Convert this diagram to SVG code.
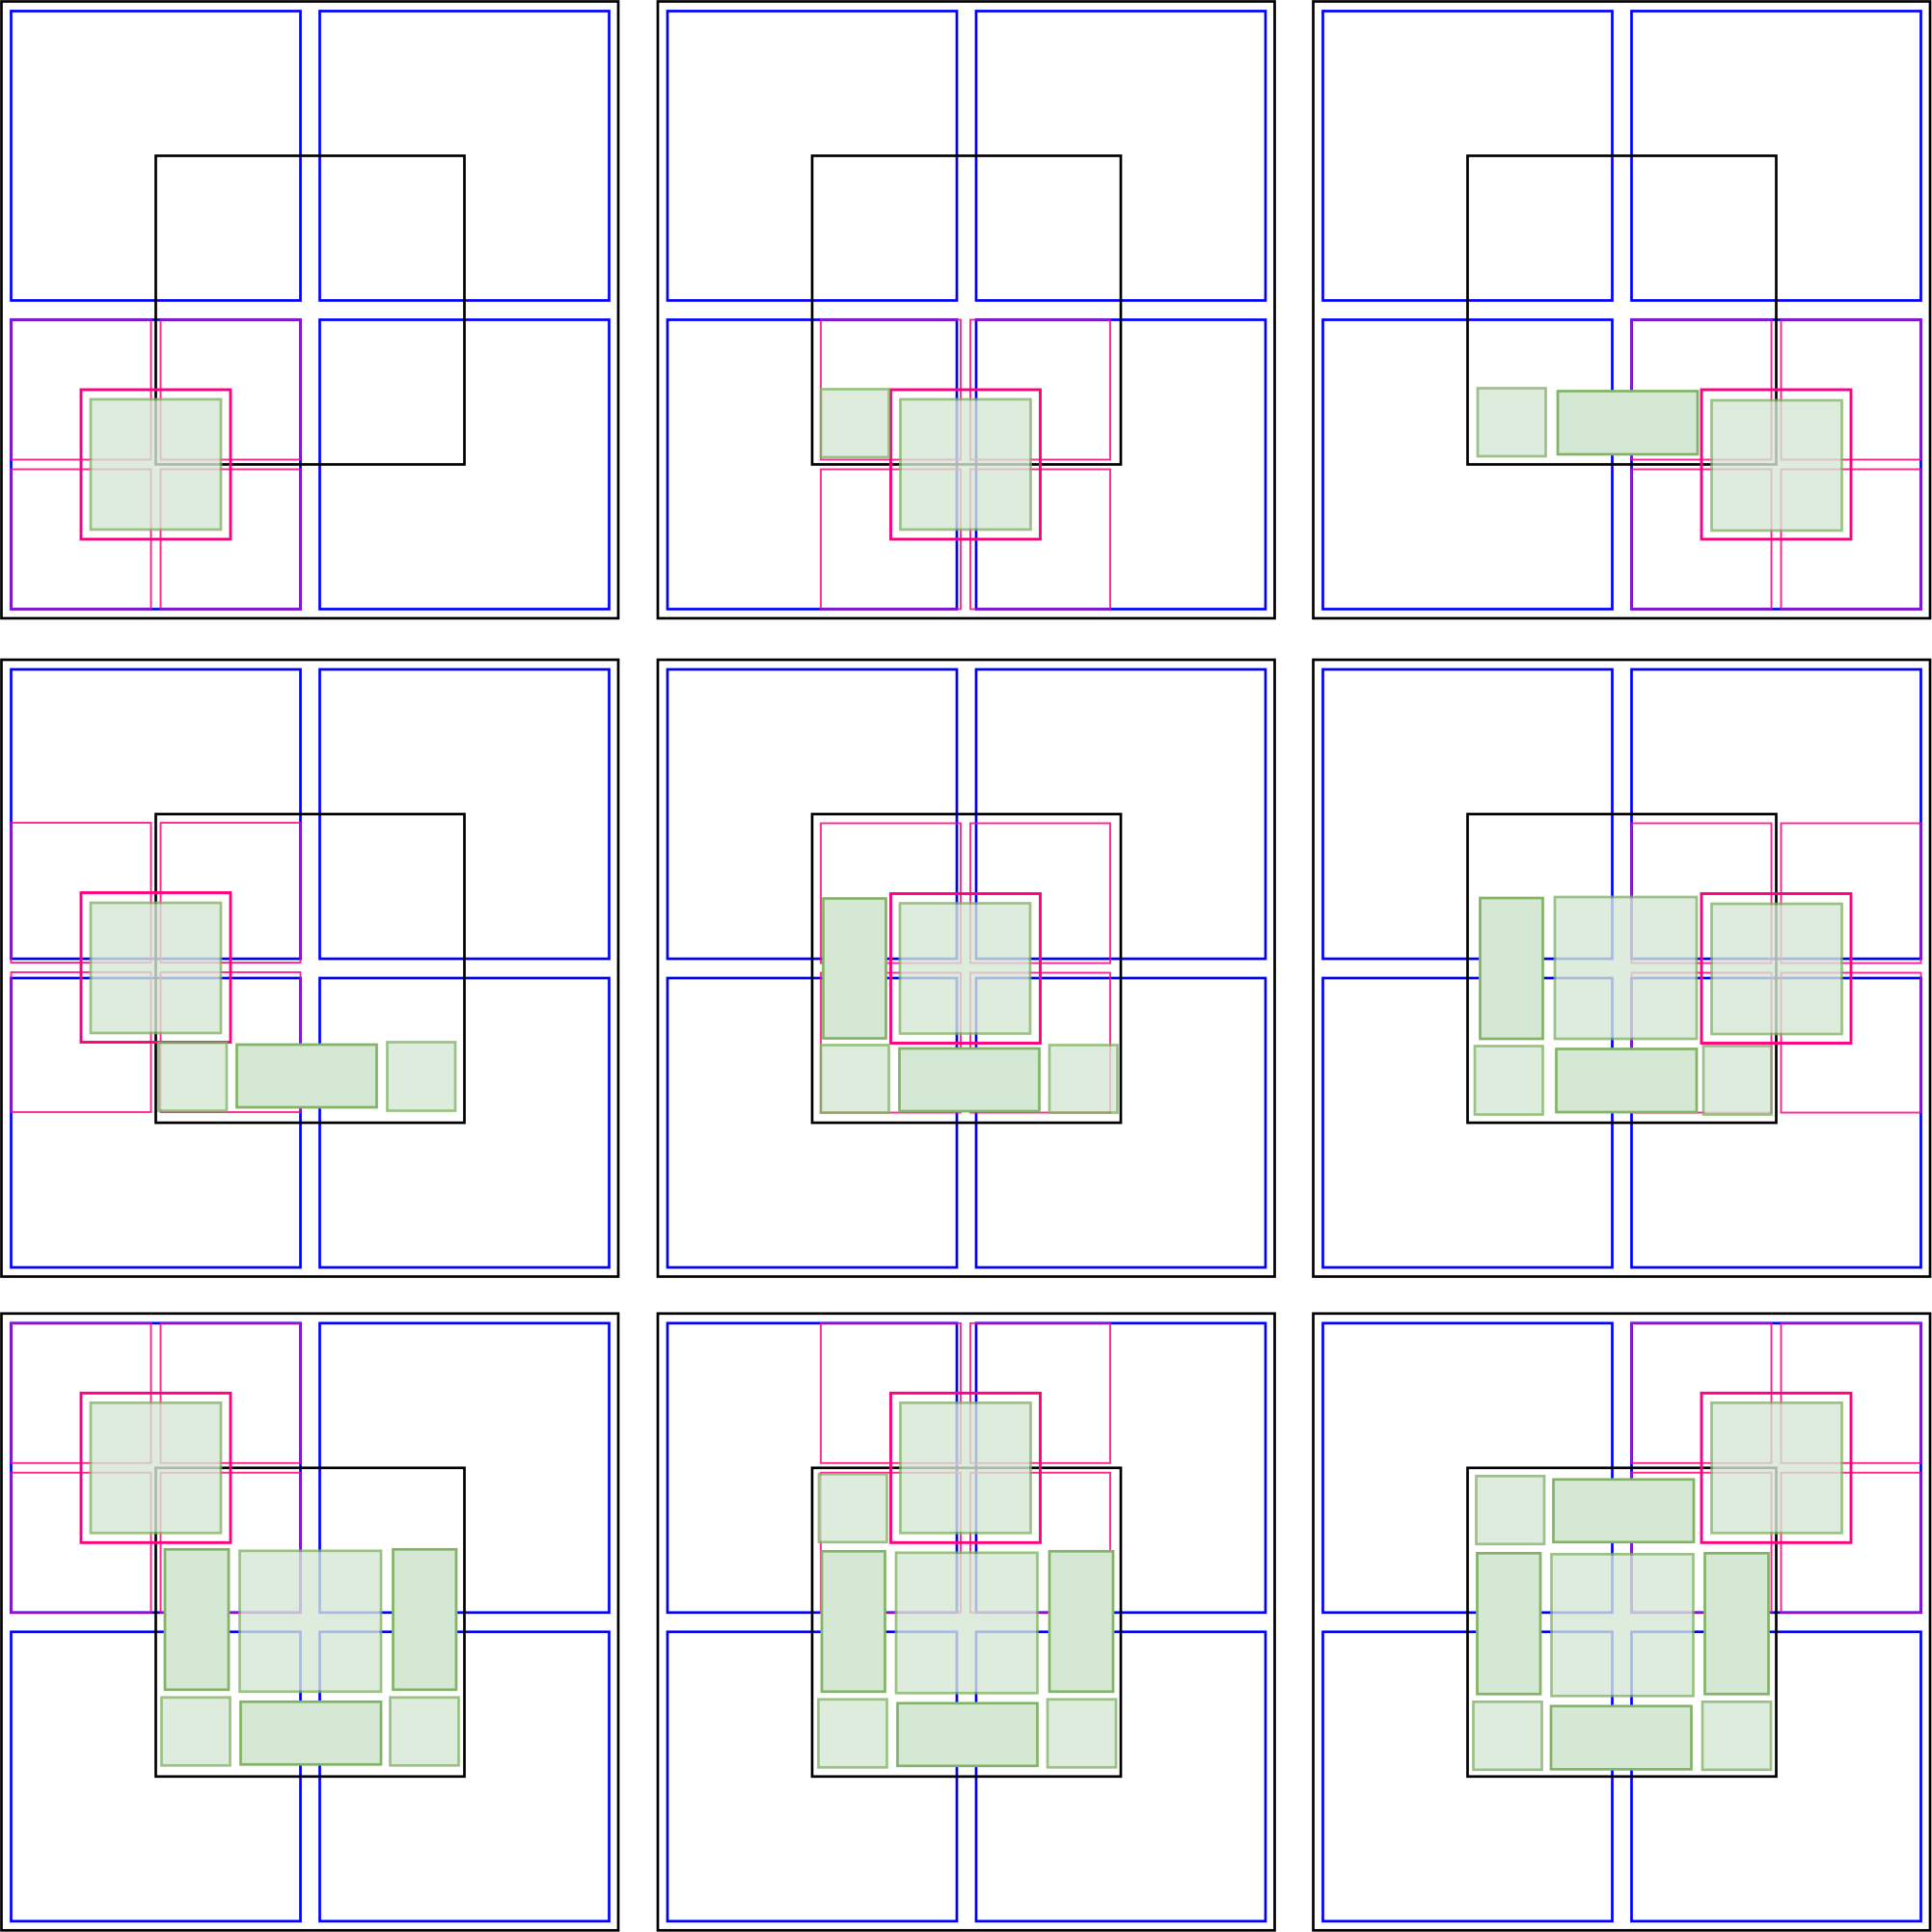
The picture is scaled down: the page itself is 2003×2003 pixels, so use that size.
<svg xmlns="http://www.w3.org/2000/svg" xmlns:xlink="http://www.w3.org/1999/xlink" width="2003" height="2003" viewBox="0 0 2003 2003">
<style>
.frame{fill:none;stroke:#000000;stroke-width:2.7}
.blue{fill:none;stroke:#0000ff;stroke-width:2.7}
.core{fill:none;stroke:#000000;stroke-width:2.7}
.pt{fill:none;stroke:#ff0080;stroke-width:1.9;opacity:0.85}
.pk{fill:none;stroke:#ff0080;stroke-width:2.9}
.sq{fill:#d5e8d4;stroke:#82b366;stroke-width:2.7;opacity:0.8}
.rc{fill:#d5e8d4;stroke:#82b366;stroke-width:2.7}
</style>
<defs>
<g id="bg">
<rect class="frame" x="1.5" y="1.5" width="639.5" height="639.5"/>
<rect class="blue" x="11.5" y="11.5" width="300" height="300"/>
<rect class="blue" x="331.5" y="11.5" width="300" height="300"/>
<rect class="blue" x="11.5" y="331.5" width="300" height="300"/>
<rect class="blue" x="331.5" y="331.5" width="300" height="300"/>
<rect class="core" x="161.5" y="161.5" width="320" height="320"/>
</g>
</defs>
<rect x="0" y="0" width="2003" height="2003" fill="#ffffff"/>

<g id="panel-1" transform="translate(0,0)">
<use xlink:href="#bg" href="#bg"/>
<rect class="pt" x="11.5" y="331.5" width="145" height="145"/>
<rect class="pt" x="166.5" y="331.5" width="145" height="145"/>
<rect class="pt" x="11.5" y="486.5" width="145" height="145"/>
<rect class="pt" x="166.5" y="486.5" width="145" height="145"/>
<rect class="pk" x="84" y="404" width="155" height="155"/>
<rect class="sq" x="94" y="414" width="135" height="135"/>
</g>

<g id="panel-2" transform="translate(680.5,0)">
<use xlink:href="#bg" href="#bg"/>
<rect class="pt" x="170.5" y="331.5" width="145" height="145"/>
<rect class="pt" x="325.5" y="331.5" width="145" height="145"/>
<rect class="pt" x="170.5" y="486.5" width="145" height="145"/>
<rect class="pt" x="325.5" y="486.5" width="145" height="145"/>
<rect class="pk" x="243" y="404" width="155" height="155"/>
<rect class="sq" x="170.5" y="403.5" width="70.5" height="70.5"/>
<rect class="sq" x="253" y="414" width="135" height="135"/>
</g>

<g id="panel-3" transform="translate(1360,0)">
<use xlink:href="#bg" href="#bg"/>
<rect class="pt" x="331.5" y="331.5" width="145" height="145"/>
<rect class="pt" x="486.5" y="331.5" width="145" height="145"/>
<rect class="pt" x="331.5" y="486.5" width="145" height="145"/>
<rect class="pt" x="486.5" y="486.5" width="145" height="145"/>
<rect class="pk" x="404" y="404" width="155" height="155"/>
<rect class="sq" x="172" y="402.5" width="70.5" height="70.5"/>
<rect class="rc" x="255" y="405.5" width="145" height="65.5"/>
<rect class="sq" x="414.5" y="415" width="135" height="135"/>
</g>

<g id="panel-4" transform="translate(0,682.5)">
<use xlink:href="#bg" href="#bg"/>
<rect class="pt" x="11.5" y="170.5" width="145" height="145"/>
<rect class="pt" x="166.5" y="170.5" width="145" height="145"/>
<rect class="pt" x="11.5" y="325.5" width="145" height="145"/>
<rect class="pt" x="166.5" y="325.5" width="145" height="145"/>
<rect class="pk" x="84" y="243" width="155" height="155"/>
<rect class="sq" x="94" y="253.5" width="135" height="135"/>
<rect class="sq" x="164.5" y="398.5" width="70.5" height="70.5"/>
<rect class="rc" x="245.5" y="400.5" width="145" height="65"/>
<rect class="sq" x="401.5" y="398" width="70.5" height="71"/>
</g>

<g id="panel-5" transform="translate(680.5,682.5)">
<use xlink:href="#bg" href="#bg"/>
<rect class="pt" x="170.5" y="171" width="145" height="145"/>
<rect class="pt" x="325.5" y="171" width="145" height="145"/>
<rect class="pt" x="170.5" y="326" width="145" height="145"/>
<rect class="pt" x="325.5" y="326" width="145" height="145"/>
<rect class="pk" x="243" y="244" width="155" height="155"/>
<rect class="rc" x="173" y="249" width="65" height="145"/>
<rect class="sq" x="252.5" y="254" width="135" height="135"/>
<rect class="sq" x="170.5" y="401" width="70.5" height="70"/>
<rect class="rc" x="252" y="404.5" width="145" height="65"/>
<rect class="sq" x="407.5" y="401" width="70.5" height="70"/>
</g>

<g id="panel-6" transform="translate(1360,682.5)">
<use xlink:href="#bg" href="#bg"/>
<rect class="pt" x="331.5" y="171" width="145" height="145"/>
<rect class="pt" x="486.5" y="171" width="145" height="145"/>
<rect class="pt" x="331.5" y="326" width="145" height="145"/>
<rect class="pt" x="486.5" y="326" width="145" height="145"/>
<rect class="pk" x="404" y="244" width="155" height="155"/>
<rect class="rc" x="174.5" y="248.5" width="65" height="146"/>
<rect class="sq" x="252" y="247.5" width="147" height="147"/>
<rect class="sq" x="169" y="402" width="70.5" height="71"/>
<rect class="rc" x="253.5" y="405" width="145.5" height="65.5"/>
<rect class="sq" x="406" y="402" width="70.5" height="71"/>
<rect class="sq" x="414.5" y="254.5" width="135" height="135"/>
</g>

<g id="panel-7" transform="translate(0,1360.3)">
<use xlink:href="#bg" href="#bg"/>
<rect class="pt" x="11.5" y="11.5" width="145" height="145"/>
<rect class="pt" x="166.5" y="11.5" width="145" height="145"/>
<rect class="pt" x="11.5" y="166.5" width="145" height="145"/>
<rect class="pt" x="166.5" y="166.5" width="145" height="145"/>
<rect class="pk" x="84" y="84" width="155" height="155"/>
<rect class="sq" x="94" y="94" width="135" height="135"/>
<rect class="rc" x="171" y="246" width="66" height="145.5"/>
<rect class="sq" x="248.5" y="247.5" width="146.5" height="146"/>
<rect class="rc" x="407.5" y="246" width="65.5" height="145.5"/>
<rect class="sq" x="167.5" y="399.5" width="71" height="70.5"/>
<rect class="rc" x="249.5" y="404" width="145.5" height="65"/>
<rect class="sq" x="404.5" y="399.5" width="71" height="70.5"/>
</g>

<g id="panel-8" transform="translate(680.5,1360.3)">
<use xlink:href="#bg" href="#bg"/>
<rect class="pt" x="170.5" y="11.5" width="145" height="145"/>
<rect class="pt" x="325.5" y="11.5" width="145" height="145"/>
<rect class="pt" x="170.5" y="166.5" width="145" height="145"/>
<rect class="pt" x="325.5" y="166.5" width="145" height="145"/>
<rect class="pk" x="243" y="84" width="155" height="155"/>
<rect class="sq" x="168.5" y="168" width="70.5" height="70.5"/>
<rect class="rc" x="171.5" y="248" width="65.5" height="145.5"/>
<rect class="sq" x="248.5" y="249.5" width="146.5" height="145.5"/>
<rect class="rc" x="407.5" y="248" width="66" height="145.5"/>
<rect class="sq" x="168" y="401.5" width="71" height="70.5"/>
<rect class="rc" x="250" y="405.5" width="145" height="65"/>
<rect class="sq" x="405.5" y="401.5" width="71" height="70.5"/>
<rect class="sq" x="253" y="94" width="135" height="135"/>
</g>

<g id="panel-9" transform="translate(1360,1360.3)">
<use xlink:href="#bg" href="#bg"/>
<rect class="pt" x="331.5" y="11.5" width="145" height="145"/>
<rect class="pt" x="486.5" y="11.5" width="145" height="145"/>
<rect class="pt" x="331.5" y="166.5" width="145" height="145"/>
<rect class="pt" x="486.5" y="166.5" width="145" height="145"/>
<rect class="pk" x="404" y="84" width="155" height="155"/>
<rect class="sq" x="170.5" y="170" width="70.5" height="70.5"/>
<rect class="rc" x="250.5" y="173.5" width="145.5" height="65"/>
<rect class="rc" x="171.5" y="250" width="65.5" height="146"/>
<rect class="sq" x="248.5" y="251" width="147" height="147"/>
<rect class="rc" x="407.5" y="250" width="66" height="146"/>
<rect class="sq" x="167.5" y="404" width="71" height="70.5"/>
<rect class="rc" x="248" y="408.5" width="145.5" height="65.5"/>
<rect class="sq" x="405" y="404" width="71" height="70.5"/>
<rect class="sq" x="414.5" y="94" width="135" height="135"/>
</g>
</svg>
